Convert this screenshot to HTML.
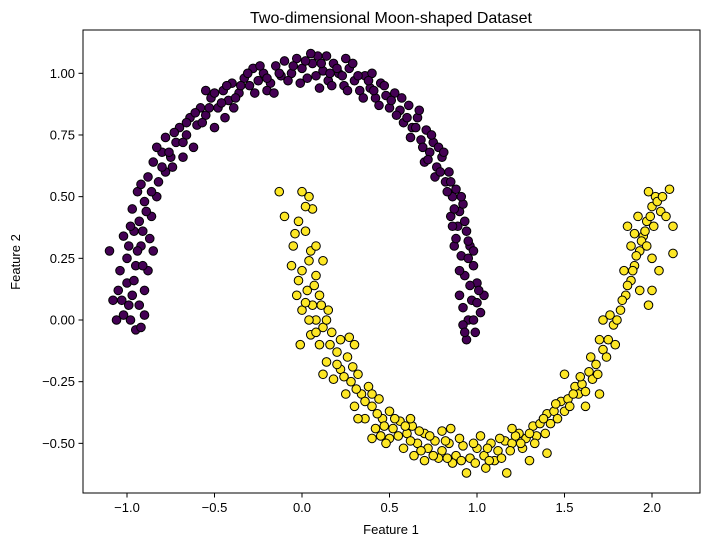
<!DOCTYPE html>
<html><head><meta charset="utf-8"><style>
body{margin:0;background:#fff;font-family:"Liberation Sans","DejaVu Sans",sans-serif}
svg text{font-family:"Liberation Sans","DejaVu Sans",sans-serif;fill:#000}
</style></head><body>
<svg id="chart" width="711" height="547" viewBox="0 0 711 547" xmlns="http://www.w3.org/2000/svg">
<text x="391" y="23" font-size="16" text-anchor="middle">Two-dimensional Moon-shaped Dataset</text>
<g id="points"></g>
<rect x="83" y="30" width="617" height="463" fill="none" stroke="#000" stroke-width="1"/>
<g id="xticks"></g>
<g id="yticks"></g>
<text x="391" y="534" font-size="13" text-anchor="middle">Feature 1</text>
<text x="0" y="0" font-size="13" text-anchor="middle" transform="translate(20,262) rotate(-90)">Feature 2</text>
</svg>
<script>
const xTicks=[-1.0,-0.5,0.0,0.5,1.0,1.5,2.0];
const xTickLabels=["−1.0","−0.5","0.0","0.5","1.0","1.5","2.0"];
const yTicks=[1.0,0.75,0.5,0.25,0.0,-0.25,-0.5];
const yTickLabels=["1.00","0.75","0.50","0.25","0.00","−0.25","−0.50"];
const upperMoon=[[-1.08,0.08],[-1.05,0.12],[-1.02,0.02],[-0.98,0.0],[-0.95,-0.04],[-0.92,-0.03],[-1.1,0.28],[-1.04,0.2],[-1.0,0.15],[-0.97,0.1],[-0.93,0.06],[-0.9,0.12],[-0.88,0.2],[-0.95,0.22],[-0.99,0.3],[-1.02,0.34],[-0.96,0.36],[-0.92,0.3],[-0.87,0.33],[-0.85,0.28],[-0.93,0.4],[-0.97,0.45],[-0.9,0.48],[-0.86,0.42],[-0.83,0.5],[-0.94,0.52],[-0.88,0.58],[-0.82,0.56],[-0.78,0.6],[-0.85,0.64],[-0.8,0.68],[-0.75,0.66],[-0.72,0.72],[-0.78,0.74],[-0.7,0.78],[-0.66,0.75],[-0.64,0.82],[-0.6,0.79],[-0.58,0.86],[-0.55,0.83],[-0.52,0.9],[-0.48,0.86],[-0.45,0.93],[-0.42,0.89],[-0.4,0.96],[-0.36,0.92],[-0.33,0.98],[-0.3,0.95],[-0.28,1.02],[-0.25,0.97],[-0.22,1.0],[-0.18,0.96],[-0.15,1.03],[-0.12,0.99],[-0.1,1.05],[-0.06,1.0],[-0.03,1.06],[0.0,1.02],[0.03,0.98],[0.06,1.04],[0.09,1.07],[0.12,1.01],[0.15,0.97],[0.18,1.04],[0.21,1.0],[0.24,0.95],[0.27,1.02],[0.3,0.97],[0.33,0.93],[0.36,0.99],[0.39,0.94],[0.42,0.9],[0.45,0.96],[0.48,0.91],[0.5,0.86],[0.53,0.92],[0.56,0.85],[0.58,0.8],[0.61,0.87],[0.63,0.78],[0.66,0.82],[0.68,0.73],[0.71,0.77],[0.73,0.68],[0.75,0.72],[0.77,0.62],[0.8,0.66],[0.82,0.56],[0.84,0.6],[0.86,0.5],[0.88,0.53],[0.9,0.44],[0.92,0.47],[0.89,0.38],[0.94,0.36],[0.96,0.3],[0.91,0.26],[0.98,0.22],[1.0,0.15],[0.93,0.18],[0.97,0.08],[1.02,0.03],[0.95,0.0],[0.99,-0.05],[0.94,-0.08],[0.92,-0.02],[0.9,0.1],[1.04,0.1],[0.87,0.3],[0.85,0.42],[-0.38,0.9],[-0.2,0.93],[0.1,0.94],[0.25,1.06],[0.4,1.0],[-0.5,0.78],[-0.62,0.7],[-0.74,0.62],[-0.68,0.66],[0.7,0.64],[0.78,0.7],[-0.55,0.93],[0.05,1.08],[-0.91,0.36],[-0.99,0.06],[0.98,0.28]];
const upperMoonExtra=[[-1.06,0.0],[-1.0,0.25],[-0.94,0.28],[-0.9,0.02],[-0.96,0.16],[-1.03,0.08],[-0.91,0.22],[-0.98,0.38],[-0.89,0.44],[-0.92,0.55],[-0.86,0.52],[-0.8,0.62],[-0.83,0.7],[-0.76,0.68],[-0.73,0.76],[-0.68,0.72],[-0.66,0.8],[-0.61,0.84],[-0.57,0.8],[-0.53,0.86],[-0.5,0.92],[-0.46,0.88],[-0.43,0.95],[-0.39,0.86],[-0.35,0.95],[-0.31,1.0],[-0.27,0.92],[-0.24,1.03],[-0.2,0.98],[-0.16,0.92],[-0.13,1.0],[-0.08,0.97],[-0.05,1.03],[-0.01,0.96],[0.02,1.05],[0.08,0.99],[0.11,1.04],[0.14,1.07],[0.17,0.95],[0.2,1.02],[0.23,0.99],[0.26,0.93],[0.29,1.04],[0.32,0.99],[0.35,0.9],[0.38,0.97],[0.41,0.93],[0.44,0.87],[0.47,0.95],[0.51,0.89],[0.54,0.83],[0.57,0.9],[0.6,0.82],[0.62,0.74],[0.65,0.78],[0.67,0.85],[0.69,0.7],[0.72,0.65],[0.74,0.75],[0.76,0.58],[0.79,0.6],[0.81,0.68],[0.83,0.52],[0.85,0.56],[0.87,0.45],[0.91,0.5],[0.93,0.4],[0.88,0.33],[0.95,0.25],[0.9,0.2],[0.96,0.14],[1.01,0.12],[0.92,0.05],[0.98,0.0],[0.93,-0.05],[1.0,0.07],[0.95,0.32],[0.86,0.38],[-0.44,0.82],[0.16,1.0]];
const lowerMoon=[[-0.13,0.52],[-0.1,0.42],[0.0,0.52],[0.04,0.5],[0.06,0.45],[-0.02,0.4],[0.02,0.36],[-0.05,0.3],[0.05,0.28],[-0.06,0.22],[0.0,0.2],[0.08,0.18],[0.03,0.12],[-0.03,0.1],[0.06,0.06],[0.1,0.1],[0.0,0.04],[0.08,0.0],[0.12,-0.03],[0.15,0.04],[0.05,-0.06],[0.1,-0.1],[0.17,-0.05],[0.2,-0.13],[0.14,-0.17],[0.22,-0.2],[0.26,-0.15],[0.18,-0.24],[0.28,-0.25],[0.32,-0.22],[0.25,-0.3],[0.34,-0.3],[0.38,-0.27],[0.3,-0.35],[0.4,-0.35],[0.44,-0.32],[0.36,-0.4],[0.46,-0.4],[0.5,-0.37],[0.42,-0.44],[0.52,-0.44],[0.56,-0.41],[0.5,-0.48],[0.6,-0.46],[0.63,-0.43],[0.58,-0.52],[0.66,-0.5],[0.7,-0.46],[0.64,-0.55],[0.72,-0.52],[0.76,-0.49],[0.7,-0.57],[0.8,-0.53],[0.84,-0.5],[0.78,-0.56],[0.88,-0.55],[0.92,-0.51],[0.86,-0.58],[0.96,-0.56],[1.0,-0.52],[0.94,-0.62],[1.04,-0.55],[1.08,-0.5],[1.02,-0.47],[1.12,-0.53],[1.16,-0.49],[1.1,-0.57],[1.2,-0.5],[1.24,-0.46],[1.17,-0.62],[1.28,-0.48],[1.32,-0.43],[1.26,-0.52],[1.36,-0.42],[1.4,-0.38],[1.34,-0.47],[1.44,-0.37],[1.48,-0.33],[1.42,-0.42],[1.52,-0.32],[1.56,-0.27],[1.5,-0.37],[1.6,-0.26],[1.64,-0.21],[1.58,-0.3],[1.68,-0.18],[1.72,-0.12],[1.66,-0.24],[1.75,-0.08],[1.78,-0.02],[1.72,0.0],[1.82,0.04],[1.85,0.1],[1.79,-0.1],[1.88,0.16],[1.9,0.22],[1.84,0.2],[1.93,0.28],[1.95,0.34],[1.88,0.3],[1.97,0.4],[2.0,0.46],[1.92,0.42],[2.02,0.5],[2.05,0.44],[1.98,0.52],[2.1,0.53],[2.12,0.38],[2.12,0.27],[2.0,0.25],[1.86,0.38],[1.93,0.12],[2.04,0.2],[0.12,-0.22],[-0.01,-0.1],[0.22,-0.08],[0.48,-0.5],[0.8,-0.45],[1.05,-0.6],[1.3,-0.57],[1.5,-0.22],[1.62,-0.35],[1.98,0.06],[0.62,-0.4],[0.4,-0.48],[0.27,-0.07],[1.7,-0.3],[1.4,-0.54],[0.32,-0.4],[0.08,0.3],[0.12,0.24]];
const lowerMoonExtra=[[0.02,0.46],[-0.04,0.35],[0.04,0.24],[-0.02,0.16],[0.07,0.14],[0.02,0.07],[0.11,0.06],[0.04,0.0],[0.14,0.0],[0.08,-0.05],[0.16,-0.1],[0.2,-0.18],[0.24,-0.23],[0.29,-0.19],[0.31,-0.28],[0.36,-0.33],[0.4,-0.3],[0.43,-0.38],[0.47,-0.43],[0.53,-0.4],[0.55,-0.47],[0.59,-0.43],[0.62,-0.49],[0.67,-0.45],[0.68,-0.53],[0.73,-0.47],[0.75,-0.55],[0.82,-0.49],[0.83,-0.56],[0.9,-0.48],[0.91,-0.57],[0.98,-0.5],[0.99,-0.58],[1.06,-0.52],[1.07,-0.57],[1.13,-0.48],[1.14,-0.56],[1.19,-0.53],[1.22,-0.47],[1.25,-0.5],[1.3,-0.46],[1.33,-0.5],[1.38,-0.4],[1.39,-0.46],[1.45,-0.34],[1.46,-0.4],[1.53,-0.35],[1.55,-0.3],[1.59,-0.23],[1.62,-0.29],[1.65,-0.15],[1.69,-0.22],[1.7,-0.08],[1.74,-0.15],[1.76,0.02],[1.8,0.0],[1.83,0.08],[1.86,0.14],[1.89,0.2],[1.91,0.26],[1.94,0.32],[1.96,0.36],[1.99,0.42],[2.01,0.38],[2.03,0.48],[2.06,0.5],[2.08,0.42],[1.97,0.3],[1.9,0.35],[2.0,0.12],[0.45,-0.47],[1.2,-0.44],[0.85,-0.44],[0.3,-0.1]];

const NS="http://www.w3.org/2000/svg";
function xScale(v){return 302+v*175;}
function yScale(v){return 320-v*246.7;}
const pts=document.getElementById('points');
function drawSeries(data,color,name){
  data.forEach(function(p){
    const c=document.createElementNS(NS,'circle');
    
    
    c.setAttribute('cx',xScale(p[0]));c.setAttribute('cy',yScale(p[1]));
    c.setAttribute('r',4.3);c.setAttribute('fill',color);
    c.setAttribute('stroke','#000');c.setAttribute('stroke-width','1');
    pts.appendChild(c);
  });
}
drawSeries(upperMoon.concat(upperMoonExtra),'#440154','upper-moon-point');
drawSeries(lowerMoon.concat(lowerMoonExtra),'#fde725','lower-moon-point');
const xg=document.getElementById('xticks');
xTicks.forEach(function(v,i){
  const x=xScale(v);
  const l=document.createElementNS(NS,'line');
  
  
  l.setAttribute('x1',x);l.setAttribute('x2',x);l.setAttribute('y1',493);l.setAttribute('y2',497.5);l.setAttribute('stroke','#000');
  xg.appendChild(l);
  const t=document.createElementNS(NS,'text');
  
  
  t.setAttribute('x',x);t.setAttribute('y',512);t.setAttribute('font-size','13');t.setAttribute('text-anchor','middle');
  t.textContent=xTickLabels[i];xg.appendChild(t);
});
const yg=document.getElementById('yticks');
yTicks.forEach(function(v,i){
  const y=yScale(v);
  const l=document.createElementNS(NS,'line');
  
  
  l.setAttribute('x1',78.5);l.setAttribute('x2',83);l.setAttribute('y1',y);l.setAttribute('y2',y);l.setAttribute('stroke','#000');
  yg.appendChild(l);
  const t=document.createElementNS(NS,'text');
  
  
  t.setAttribute('x',75);t.setAttribute('y',y+4.5);t.setAttribute('font-size','13');t.setAttribute('text-anchor','end');
  t.textContent=yTickLabels[i];yg.appendChild(t);
});
</script>
</body></html>
